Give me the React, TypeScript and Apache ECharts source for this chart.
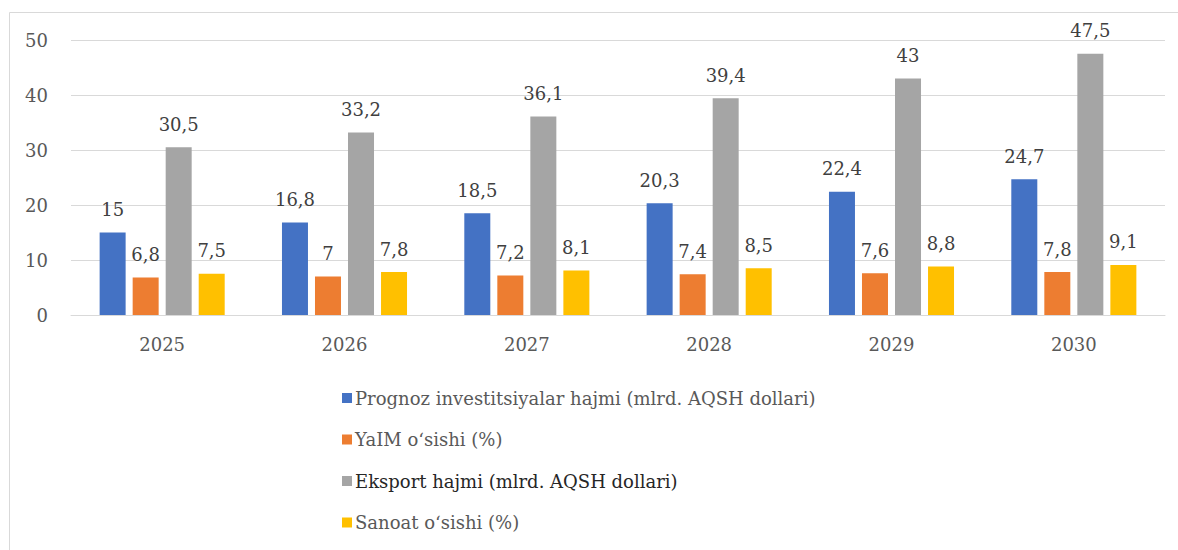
import React, { useEffect, useRef } from "react";
import * as echarts from "echarts";

const categories = ["2025", "2026", "2027", "2028", "2029", "2030"];
const seriesNames = [
  "Prognoz investitsiyalar hajmi (mlrd. AQSH dollari)",
  "YaIM o‘sishi (%)",
  "Eksport hajmi (mlrd. AQSH dollari)",
  "Sanoat o‘sishi (%)",
];
const investments = [15, 16.8, 18.5, 20.3, 22.4, 24.7];
const gdpGrowth = [6.8, 7, 7.2, 7.4, 7.6, 7.8];
const exports = [30.5, 33.2, 36.1, 39.4, 43, 47.5];
const industryGrowth = [7.5, 7.8, 8.1, 8.5, 8.8, 9.1];
const yTicks = [0, 10, 20, 30, 40, 50];

const colors = ["#4472C4", "#ED7D31", "#A5A5A5", "#FFC000"];
const FONT = "DejaVu Serif";
const FS = 18;

export default function App() {
  const ref = useRef<HTMLDivElement>(null);
  useEffect(() => {
    if (!ref.current) return;
    const chart = echarts.init(ref.current, undefined, { renderer: "svg" });
    const values = [investments, gdpGrowth, exports, industryGrowth];
    chart.setOption({
      animation: false,
      textStyle: { fontFamily: FONT },
      graphic: [
        {
          type: "rect",
          shape: { x: 9.5, y: 12.5, width: 1200, height: 600 },
          style: { fill: "none", stroke: "#d9d9d9", lineWidth: 1 },
          silent: true,
        },
      ],
      grid: { left: 71, right: 13, top: 40, bottom: 235, containLabel: false },
      legend: {
        orient: "vertical",
        left: 337,
        top: 384,
        itemWidth: 10,
        itemHeight: 10,
        itemGap: 23.5,
        icon: "rect",
        textStyle: { fontFamily: FONT, fontSize: FS, color: "#595959", padding: [0, 0, 0, -2] },
        data: seriesNames.map((n, i) =>
          i === 2 ? { name: n, textStyle: { color: "#262626" } } : { name: n }
        ),
      },
      xAxis: {
        type: "category",
        data: categories,
        axisLine: { lineStyle: { color: "#d9d9d9" } },
        axisTick: { show: false },
        axisLabel: { fontFamily: FONT, fontSize: FS, color: "#595959", margin: 20 },
      },
      yAxis: {
        type: "value",
        min: yTicks[0],
        max: yTicks[yTicks.length - 1],
        interval: 10,
        axisLine: { show: false },
        axisTick: { show: false },
        splitLine: { lineStyle: { color: "#d9d9d9" } },
        axisLabel: { fontFamily: FONT, fontSize: FS, color: "#595959", margin: 23 },
      },
      series: seriesNames.map((name, i) => ({
        name,
        type: "bar",
        data: values[i],
        barWidth: 26,
        barGap: "27%",
        itemStyle: { color: colors[i] },
        label: {
          show: true,
          position: "top",
          distance: 14,
          fontFamily: FONT,
          fontSize: FS,
          color: "#404040",
          formatter: (p: any) => String(p.value).replace(".", ","),
        },
      })),
    });
    return () => chart.dispose();
  }, []);
  return (
    <div
      ref={ref}
      style={{ position: "fixed", left: 0, top: 0, width: 1178, height: 550, background: "#fff" }}
    />
  );
}
